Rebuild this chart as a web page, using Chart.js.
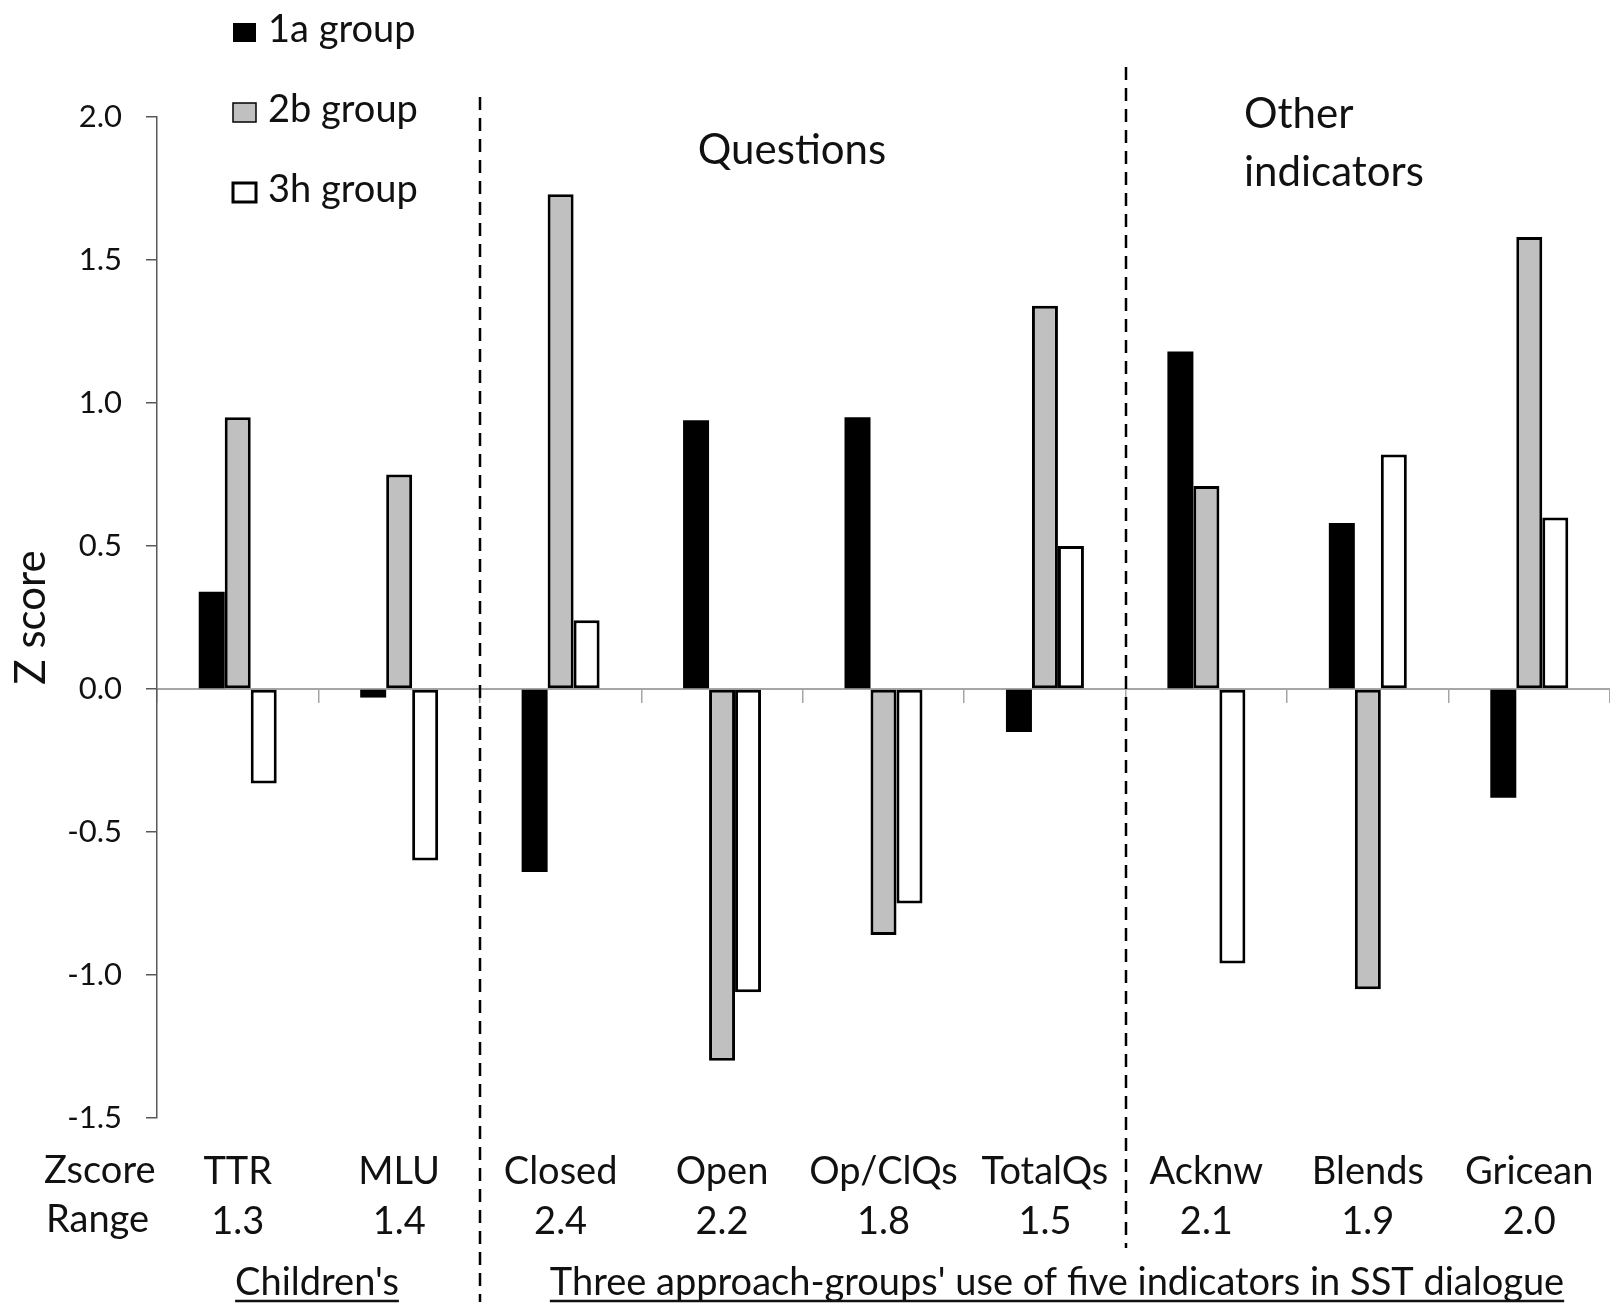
<!DOCTYPE html>
<html lang="en">
<head>
<meta charset="UTF-8">
<title>Z scores of five indicators</title>
<script src="https://cdn.jsdelivr.net/npm/chart.js"></script>
<style>
  html, body { margin: 0; padding: 0; background: #fff; overflow: hidden; }
  #wrap { width: 1610px; height: 1304px; position: relative; }
</style>
</head>
<body>
<div id="wrap"><canvas id="zChart"></canvas></div>
<script>
// data
const indicators = ['TTR', 'MLU', 'Closed', 'Open', 'Op/ClQs', 'TotalQs', 'Acknw', 'Blends', 'Gricean'];
const zRanges = ['1.3', '1.4', '2.4', '2.2', '1.8', '1.5', '2.1', '1.9', '2.0'];
const group1a = [0.34, -0.03, -0.64, 0.94, 0.95, -0.15, 1.18, 0.58, -0.38];
const group2b = [0.95, 0.75, 1.73, -1.30, -0.86, 1.34, 0.71, -1.05, 1.58];
const group3h = [-0.33, -0.60, 0.24, -1.06, -0.75, 0.50, -0.96, 0.82, 0.60];
const yTicks = [-1.5, -1.0, -0.5, 0.0, 0.5, 1.0, 1.5, 2.0];
const seriesNames = ['1a group', '2b group', '3h group'];

const FONT = 'Lato, "Open Sans", sans-serif';
const INK = '#111';

// two-row tick labels: indicator name over its z-score range
const bottomLabels = indicators.map((name, i) => [name, zRanges[i]]);

// legend, dividers, section headings, row captions and underlined group titles
const extras = {
    id: 'extras',
    afterDraw(chart) {
        const { ctx } = chart;
        const x = chart.scales.x;
        ctx.save();

        // dashed dividers between indicator groups
        ctx.strokeStyle = '#000';
        ctx.lineWidth = 2.5;
        ctx.setLineDash([13, 8]);
        [[1.5, 97, 1302], [5.5, 67, 1248]].forEach(([at, top, bottom]) => {
            const px = Math.round(x.getPixelForValue(at));
            ctx.beginPath();
            ctx.moveTo(px, top);
            ctx.lineTo(px, bottom);
            ctx.stroke();
        });
        ctx.setLineDash([]);

        // legend (stacked, top left)
        ctx.font = '38px ' + FONT;
        ctx.textBaseline = 'alphabetic';
        ctx.textAlign = 'left';
        chart.data.datasets.forEach((ds, i) => {
            const base = 42 + i * 80;
            ctx.fillStyle = ds.backgroundColor;
            ctx.fillRect(233, base - 19, 23, 19);
            if (i > 0) {
                ctx.lineWidth = i === 2 ? 3 : 1.5;
                ctx.strokeStyle = ds.borderColor;
                ctx.strokeRect(233, base - 19, 23, 19);
            }
            ctx.fillStyle = INK;
            ctx.fillText(ds.label, 268, base);
        });

        // row captions at the left of the tick labels
        ctx.fillText('Zscore', 44, 1183);
        ctx.fillText('Range', 46, 1232);

        // underlined group titles
        ctx.textAlign = 'center';
        ctx.lineWidth = 2.5;
        ctx.strokeStyle = INK;
        [["Children's", 317], ["Three approach-groups' use of five indicators in SST dialogue", 1057]].forEach(([t, cx]) => {
            ctx.fillText(t, cx, 1295);
            const w = ctx.measureText(t).width;
            ctx.beginPath();
            ctx.moveTo(cx - w / 2, 1301);
            ctx.lineTo(cx + w / 2, 1301);
            ctx.stroke();
        });

        // section headings (a little larger)
        ctx.font = '42px ' + FONT;
        ctx.textAlign = 'center';
        ctx.fillText('Questions', 792, 164);
        ctx.textAlign = 'left';
        ctx.fillText('Other', 1244, 128);
        ctx.fillText('indicators', 1244, 186);
        ctx.restore();
    }
};

const ctx = document.getElementById('zChart').getContext('2d');
new Chart(ctx, {
    type: 'bar',
    data: {
        labels: indicators,
        datasets: [
            { label: seriesNames[0], data: group1a, backgroundColor: '#000000', borderColor: '#000000', borderWidth: 0 },
            { label: seriesNames[1], data: group2b, backgroundColor: '#c0c0c0', borderColor: '#000000', borderWidth: 3 },
            { label: seriesNames[2], data: group3h, backgroundColor: '#ffffff', borderColor: '#000000', borderWidth: 3 }
        ]
    },
    options: {
        responsive: true,
        maintainAspectRatio: false,
        animation: false,
        devicePixelRatio: 1,
        // the last category runs a few pixels past the right edge, as in the figure
        layout: { padding: { top: 117, left: 0, right: -5, bottom: 0 } },
        datasets: {
            bar: { categoryPercentage: 0.483, barPercentage: 1, borderSkipped: false }
        },
        plugins: {
            legend: { display: false },
            tooltip: { enabled: false }
        },
        scales: {
            // zero line with category tick marks
            x: {
                type: 'category',
                position: { y: 0 },
                offset: true,
                ticks: { display: false },
                grid: { offset: true, drawOnChartArea: false, drawTicks: true, tickLength: 13, color: '#a6a6a6', lineWidth: 1.5 },
                border: { color: '#a6a6a6', width: 2 }
            },
            // label axis at the bottom
            x2: {
                type: 'category',
                position: 'bottom',
                labels: bottomLabels,
                offset: true,
                grid: { display: false, drawTicks: false },
                border: { display: false },
                ticks: {
                    padding: 29,
                    maxRotation: 0,
                    autoSkip: false,
                    color: INK,
                    font: { family: FONT, size: 38, lineHeight: '50px' }
                },
                afterFit: (s) => {
                    s.height = 186;
                    s.paddingLeft = 0;
                    s.paddingRight = 0;
                }
            },
            y: {
                min: -1.5,
                max: 2.0,
                afterBuildTicks: (s) => { s.ticks = yTicks.map(v => ({ value: v })); },
                grid: { drawOnChartArea: false, drawTicks: true, tickLength: 11, color: '#595959', lineWidth: 1.5 },
                border: { color: '#595959', width: 1.5 },
                ticks: {
                    padding: 24,
                    color: INK,
                    font: { family: FONT, size: 31 },
                    callback: (v) => Number(v).toFixed(1)
                },
                title: {
                    display: true,
                    text: 'Z score',
                    color: INK,
                    font: { family: FONT, size: 42 },
                    padding: { top: 6, bottom: 0 }
                },
                afterFit: (s) => { s.width = 157; }
            }
        }
    },
    plugins: [extras]
});
</script>
</body>
</html>
